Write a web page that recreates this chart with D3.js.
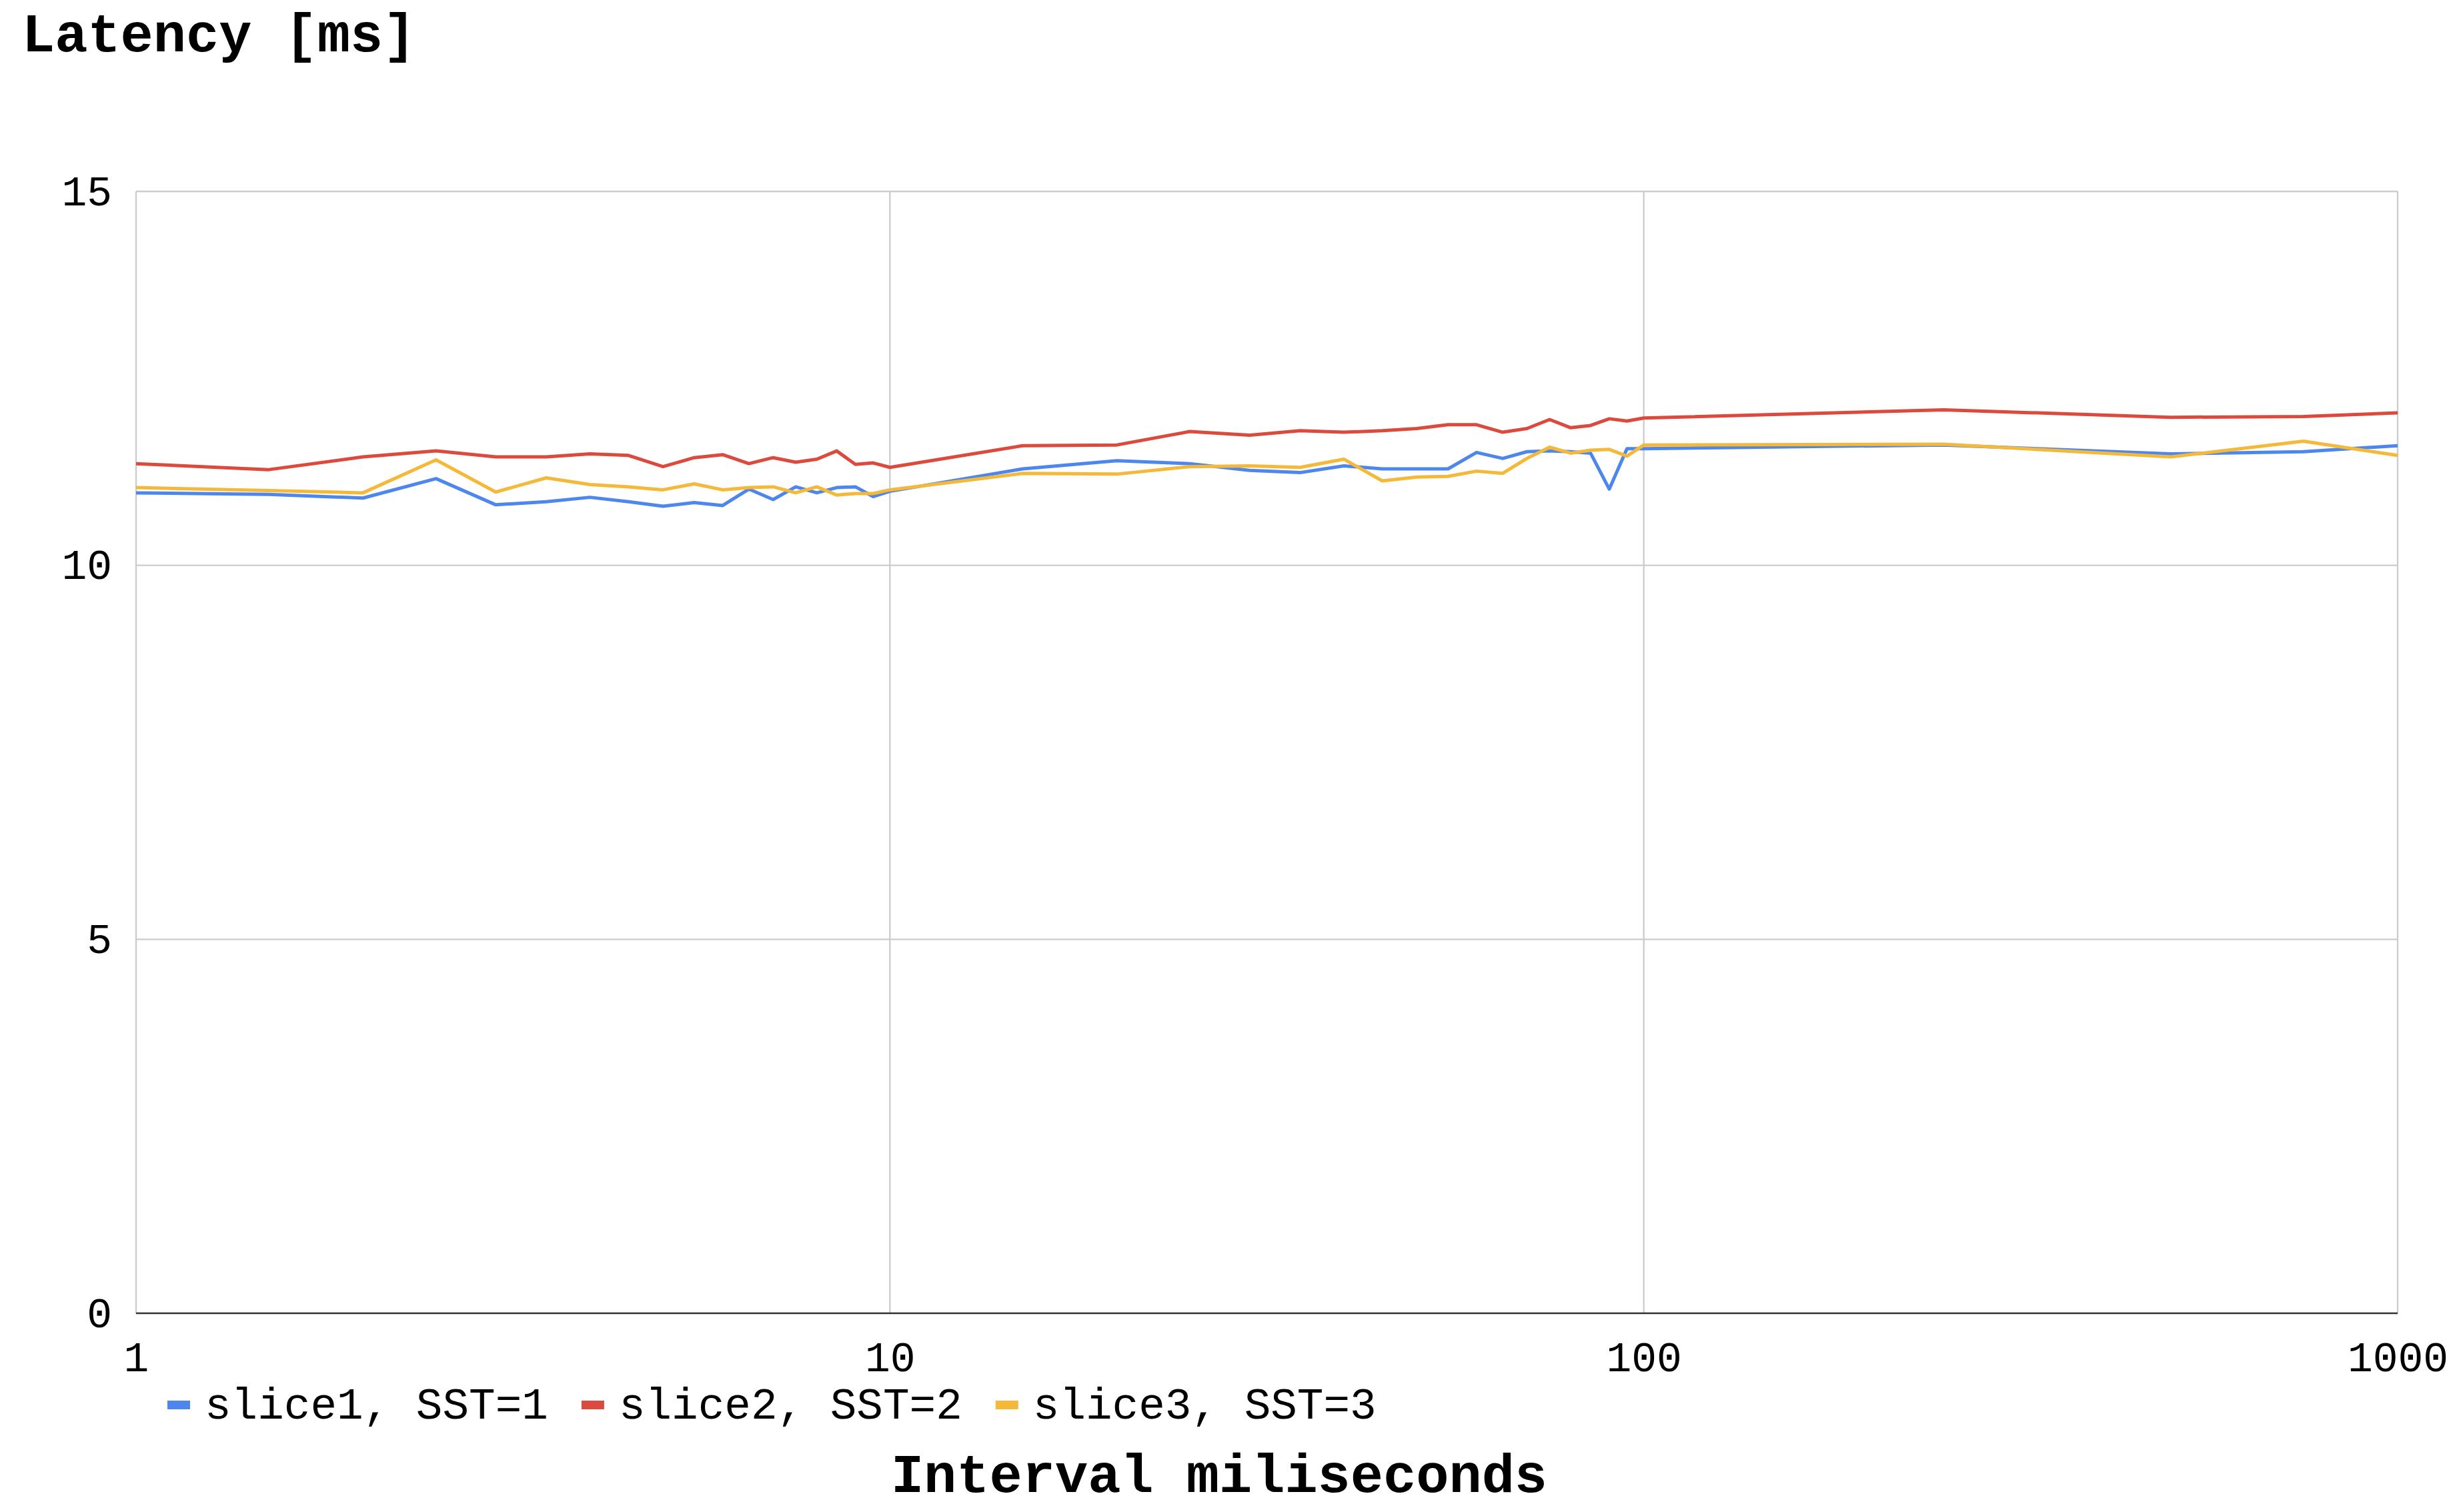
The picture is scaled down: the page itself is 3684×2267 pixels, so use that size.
<!DOCTYPE html>
<html>
<head>
<meta charset="utf-8">
<script src="https://cdn.jsdelivr.net/npm/d3@7"></script>
<style>
  body { margin: 0; background: #fff; }
  text { font-family: "Liberation Mono", "Courier New", monospace; fill: #000; }
</style>
</head>
<body>
<script>
// x values (interval, ms) shared by all three series
var intervals = [1, 1.5, 2, 2.5, 3, 3.5, 4, 4.5, 5, 5.5, 6, 6.5, 7, 7.5, 8, 8.5, 9, 9.5,
    10, 15, 20, 25, 30, 35, 40, 45, 50, 55, 60, 65, 70, 75, 80, 85, 90, 95,
    100, 250, 500, 750, 1000];

var slice1 = [10.97, 10.95, 10.90, 11.16, 10.81, 10.85, 10.91, 10.85, 10.79, 10.84,
    10.80, 11.02, 10.88, 11.05, 10.97, 11.04, 11.05, 10.92,
    10.99, 11.29, 11.40, 11.36, 11.27, 11.24, 11.33, 11.29, 11.29, 11.29,
    11.51, 11.43, 11.52, 11.53, 11.52, 11.50, 11.02, 11.56,
    11.56, 11.61, 11.49, 11.52, 11.60];

var slice2 = [11.36, 11.28, 11.45, 11.53, 11.45, 11.45, 11.49, 11.47, 11.32, 11.44,
    11.48, 11.36, 11.44, 11.38, 11.42, 11.53, 11.35, 11.37,
    11.31, 11.60, 11.61, 11.79, 11.74, 11.80, 11.78, 11.80, 11.83, 11.88,
    11.88, 11.78, 11.83, 11.95, 11.84, 11.87, 11.96, 11.93,
    11.97, 12.08, 11.98, 11.99, 12.04];

var slice3 = [11.04, 11.00, 10.97, 11.41, 10.98, 11.17, 11.08, 11.05, 11.01, 11.09,
    11.01, 11.04, 11.05, 10.97, 11.05, 10.94, 10.96, 10.96,
    11.01, 11.23, 11.22, 11.32, 11.33, 11.31, 11.42, 11.13, 11.18, 11.19,
    11.26, 11.23, 11.43, 11.58, 11.50, 11.54, 11.55, 11.46,
    11.61, 11.62, 11.45, 11.66, 11.47];

var seriesNames = ["slice1, SST=1", "slice2, SST=2", "slice3, SST=3"];
var seriesColors = ["#4d87ee", "#dc4a3d", "#f5b93a"];
var xTicks = [1, 10, 100, 1000];
var yTicks = [0, 5, 10, 15];

var W = 3684, H = 2267;
var plot = {left: 204, right: 3595, top: 287, bottom: 1969};

var svg = d3.select("body").append("svg")
    .attr("width", W)
    .attr("height", H);

var x = d3.scaleLog().domain([1, 1000]).range([plot.left, plot.right]);
var y = d3.scaleLinear().domain([0, 15]).range([plot.bottom, plot.top]);

// grid lines
svg.append("g").selectAll("line.vg")
    .data(xTicks).enter().append("line")
    .attr("x1", function(d) { return x(d); })
    .attr("x2", function(d) { return x(d); })
    .attr("y1", plot.top)
    .attr("y2", plot.bottom)
    .style("stroke", "#cccccc")
    .style("stroke-width", 2.3);

svg.append("g").selectAll("line.hg")
    .data(yTicks.filter(function(d) { return d > 0; })).enter().append("line")
    .attr("x1", plot.left)
    .attr("x2", plot.right)
    .attr("y1", function(d) { return y(d); })
    .attr("y2", function(d) { return y(d); })
    .style("stroke", "#cccccc")
    .style("stroke-width", 2.3);

// baseline at 0
svg.append("line")
    .attr("x1", plot.left).attr("x2", plot.right)
    .attr("y1", y(0)).attr("y2", y(0))
    .style("stroke", "#333333")
    .style("stroke-width", 2.6);

// y axis labels
var yAxis = d3.axisLeft(y).tickValues(yTicks).tickSize(0).tickPadding(36);
var gy = svg.append("g")
    .attr("transform", "translate(" + plot.left + ",0)")
    .call(yAxis);
gy.select(".domain").remove();
gy.selectAll("text")
    .style("font-family", "'Liberation Mono', 'Courier New', monospace")
    .style("font-size", "63px")
    .attr("fill", "#000");

// x axis labels
var xAxis = d3.axisBottom(x).tickValues(xTicks).tickSize(0)
    .tickFormat(d3.format("d")).tickPadding(0);
var gx = svg.append("g")
    .attr("transform", "translate(0," + plot.bottom + ")")
    .call(xAxis);
gx.select(".domain").remove();
gx.selectAll("text")
    .attr("dy", null)
    .attr("y", 87)
    .style("font-family", "'Liberation Mono', 'Courier New', monospace")
    .style("font-size", "63px")
    .attr("fill", "#000");

// lines
var allSeries = [slice1, slice2, slice3];
var line = d3.line()
    .x(function(d, i) { return x(intervals[i]); })
    .y(function(d) { return y(d); });

allSeries.forEach(function(s, k) {
    svg.append("path")
        .datum(s)
        .attr("d", line)
        .style("fill", "none")
        .style("stroke", seriesColors[k])
        .style("stroke-width", 5)
        .style("stroke-linejoin", "round");
});

// legend
var legendX = 251;
seriesNames.forEach(function(name, k) {
    svg.append("rect")
        .attr("x", legendX)
        .attr("y", 2100)
        .attr("width", 34)
        .attr("height", 13)
        .style("fill", seriesColors[k]);
    var t = svg.append("text")
        .attr("x", legendX + 56)
        .attr("y", 2127)
        .style("font-size", "66px")
        .text(name);
    legendX = legendX + 56 + t.node().getComputedTextLength() + 50;
});

// titles
svg.append("text")
    .attr("x", 33)
    .attr("y", 77)
    .style("font-size", "82px")
    .style("font-weight", "bold")
    .text("Latency [ms]");

svg.append("text")
    .attr("x", 1828)
    .attr("y", 2237)
    .attr("text-anchor", "middle")
    .style("font-size", "82px")
    .style("font-weight", "bold")
    .text("Interval miliseconds");
</script>
</body>
</html>
